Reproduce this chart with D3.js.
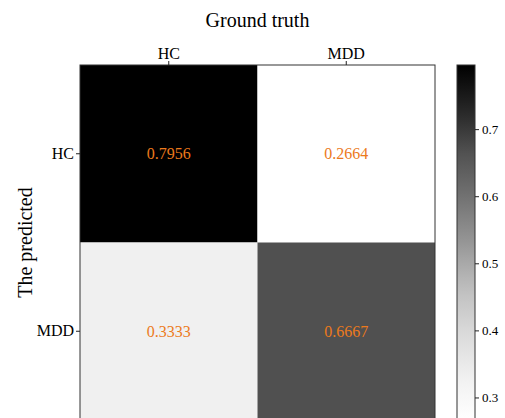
<!DOCTYPE html>
<html>
<head>
<meta charset="utf-8">
<script src="https://cdn.jsdelivr.net/npm/d3@7"></script>
<style>
  body { margin: 0; background: #fff; }
  svg { display: block; }
  svg text { font-family: "Liberation Serif", "Times New Roman", serif; }
</style>
</head>
<body>
<svg id="chart" width="505" height="418"></svg>
<script>
// confusion matrix: rows = predicted, cols = ground truth
const classes = ["HC", "MDD"];
const matrix = [
  [0.7956, 0.2664],
  [0.3333, 0.6667]
];
const cbTicks = [0.3, 0.4, 0.5, 0.6, 0.7];

// matplotlib "Greys" (ColorBrewer 9)
const greys = ["#ffffff", "#f0f0f0", "#d9d9d9", "#bdbdbd", "#969696", "#737373", "#525252", "#252525", "#000000"];

const cells = [];
matrix.forEach((row, i) => row.forEach((v, j) => cells.push({ row: classes[i], col: classes[j], value: v })));

const vmin = d3.min(cells, d => d.value);
const vmax = d3.max(cells, d => d.value);

const norm = d3.scaleLinear().domain([vmin, vmax]).range([0, 1]);
const ramp = d3.scaleLinear()
  .domain(greys.map((c, i) => i / (greys.length - 1)))
  .range(greys)
  .interpolate(d3.interpolateRgb);
const color = v => ramp(norm(v));

const svg = d3.select("#chart");

const plotLeft = 80, plotTop = 65, size = 355;
const x = d3.scaleBand().domain(classes).range([plotLeft, plotLeft + size]);
const y = d3.scaleBand().domain(classes).range([plotTop, plotTop + size]);

svg.append("g")
  .selectAll("rect")
  .data(cells)
  .join("rect")
  .attr("x", d => x(d.col))
  .attr("y", d => y(d.row))
  .attr("width", x.bandwidth())
  .attr("height", y.bandwidth())
  .attr("fill", d => color(d.value));

svg.append("g")
  .selectAll("text")
  .data(cells)
  .join("text")
  .attr("x", d => x(d.col) + x.bandwidth() / 2)
  .attr("y", d => y(d.row) + y.bandwidth() / 2)
  .attr("dy", "0.35em")
  .attr("text-anchor", "middle")
  .attr("font-family", "Liberation Serif")
  .attr("font-size", 16)
  .attr("fill", "#ec7a1c")
  .text(d => d.value.toFixed(4));

// frame
svg.append("rect")
  .attr("x", plotLeft).attr("y", plotTop)
  .attr("width", size).attr("height", size)
  .attr("fill", "none")
  .attr("stroke", "#333")
  .attr("stroke-width", 1);

const xAxis = svg.append("g")
  .attr("transform", `translate(0,${plotTop})`)
  .call(d3.axisTop(x).tickSize(4).tickPadding(2));
const yAxis = svg.append("g")
  .attr("transform", `translate(${plotLeft},0)`)
  .call(d3.axisLeft(y).tickSize(4).tickPadding(2));

[xAxis, yAxis].forEach(g => {
  g.select(".domain").remove();
  g.selectAll("line").attr("stroke", "#222");
  g.selectAll("text")
    .attr("font-family", "Liberation Serif")
    .attr("font-size", 16)
    .attr("fill", "#000");
});

svg.append("text")
  .attr("x", plotLeft + size / 2)
  .attr("y", 27)
  .attr("text-anchor", "middle")
  .attr("font-size", 20)
  .text("Ground truth");

svg.append("text")
  .attr("transform", `translate(32,${plotTop + size / 2}) rotate(-90)`)
  .attr("text-anchor", "middle")
  .attr("font-size", 20)
  .text("The predicted");

// colorbar
const cbX = 457, cbW = 18;
const cbY = d3.scaleLinear().domain([vmin, vmax]).range([plotTop + size, plotTop]);

const grad = svg.append("defs").append("linearGradient")
  .attr("id", "cbgrad")
  .attr("x1", 0).attr("y1", 1).attr("x2", 0).attr("y2", 0);
grad.selectAll("stop")
  .data(d3.range(0, 1.0001, 0.05))
  .join("stop")
  .attr("offset", t => t)
  .attr("stop-color", t => ramp(t));

svg.append("rect")
  .attr("x", cbX).attr("y", plotTop)
  .attr("width", cbW).attr("height", size)
  .attr("fill", "url(#cbgrad)")
  .attr("stroke", "#333")
  .attr("stroke-width", 1);

const cbAxis = svg.append("g")
  .attr("transform", `translate(${cbX + cbW},0)`)
  .call(d3.axisRight(cbY).tickValues(cbTicks).tickFormat(d3.format(".1f")).tickSize(4).tickPadding(3));
cbAxis.select(".domain").remove();
cbAxis.selectAll("line").attr("stroke", "#222");
cbAxis.selectAll("text")
  .attr("font-family", "Liberation Serif")
  .attr("font-size", 13)
  .attr("fill", "#000");
</script>
</body>
</html>
